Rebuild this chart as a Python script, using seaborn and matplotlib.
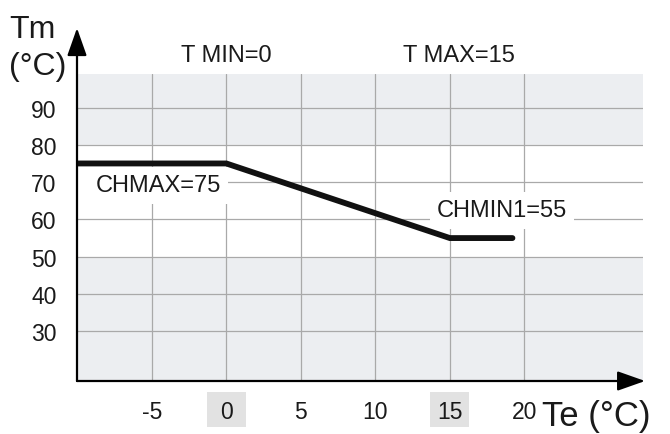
import matplotlib
matplotlib.use("Agg")
import matplotlib.pyplot as plt
from matplotlib.patches import Rectangle
import seaborn as sns
import pandas as pd

# ---- data ----
te_points = [-10, 0, 15, 19.2]
tm_points = [75, 75, 55, 55]
x_ticks = [-5, 0, 5, 10, 15, 20]
x_tick_labels = ["-5", "0", "5", "10", "15", "20"]
y_ticks = [30, 40, 50, 60, 70, 80, 90]
y_tick_labels = ["30", "40", "50", "60", "70", "80", "90"]
highlight_ticks = [0, 15]
t_min, t_max = 0, 15
ch_max, ch_min1 = 75, 55

sns.set_style("white")
plt.rcParams["font.family"] = ["Liberation Sans", "DejaVu Sans"]

W, H = 670, 435
fig = plt.figure(figsize=(W / 100, H / 100), dpi=100)
ax = fig.add_axes([77 / W, (H - 382) / H, 566 / W, (382 - 74.5) / H])

XMIN, XMAX = -10.02, 27.96
YMIN, YMAX = 16.68, 99.12
ax.set_xlim(XMIN, XMAX)
ax.set_ylim(YMIN, YMAX)

ax.set_facecolor("#eceef1")
ax.axhspan(50, 80, color="white", zorder=0)

df = pd.DataFrame({"Te": te_points, "Tm": tm_points})
sns.lineplot(data=df, x="Te", y="Tm", ax=ax, color="#111111", lw=4.2,
             sort=False, zorder=5, solid_joinstyle="miter")

grid_c = "#a9a9a9"
ax.set_xticks(x_ticks)
ax.set_xticklabels(x_tick_labels)
ax.set_yticks(y_ticks)
ax.set_yticklabels(y_tick_labels)
ax.grid(True, color=grid_c, lw=0.9, zorder=1)
ax.set_axisbelow(True)
ax.tick_params(axis="x", length=10.8, width=0.9, color=grid_c, pad=3,
               labelsize=16.5, labelcolor="#1a1a1a")
ax.tick_params(axis="y", length=8.6, width=0.9, color=grid_c, pad=6,
               labelsize=16.5, labelcolor="#1a1a1a")
ax.set_xlabel("")
ax.set_ylabel("")
for s in ax.spines.values():
    s.set_visible(False)

# gray boxes behind highlighted tick labels
for t in highlight_ticks:
    ax.add_patch(Rectangle((t - 1.3, 4.35), 2.6, 9.35, facecolor="#e2e2e2",
                           edgecolor="none", clip_on=False, zorder=0))

# axis arrows
arrow_kw = dict(arrowstyle="-|>,head_length=1.7,head_width=0.6", color="black",
                lw=1.6, shrinkA=0, shrinkB=0)
ax.annotate("", xy=(XMIN, 111.3), xytext=(XMIN, YMIN), arrowprops=arrow_kw,
            annotation_clip=False, zorder=6)
ax.annotate("", xy=(28.1, YMIN), xytext=(XMIN, YMIN), arrowprops=arrow_kw,
            annotation_clip=False, zorder=6)

txt_c = "#1a1a1a"
ax.text(t_min, 104.1, f"T MIN={t_min}", ha="center", va="center", fontsize=17,
        color=txt_c, clip_on=False)
ax.text(15.6, 104.1, f"T MAX={t_max}", ha="center", va="center", fontsize=17,
        color=txt_c, clip_on=False)
# white backing behind CHMAX label (reaches the y axis)
ax.add_patch(Rectangle((XMIN, 66.0), 9.7, 8.0, facecolor="white",
                       edgecolor="none", zorder=3))
ax.text(-8.75, 69.1, f"CHMAX={ch_max}", ha="left", va="center", fontsize=17,
        color=txt_c, zorder=4,
        bbox=dict(boxstyle="square,pad=0.3", fc="white", ec="none"))
ax.text(14.13, 62.4, f"CHMIN1={ch_min1}", ha="left", va="center", fontsize=17,
        color=txt_c, zorder=4,
        bbox=dict(boxstyle="square,pad=0.3", fc="white", ec="none"))

fig.text(9 / W, (H - 38) / H, "Tm", fontsize=23, color=txt_c, va="baseline")
fig.text(9 / W, (H - 75) / H, "(°C)", fontsize=23, color=txt_c, va="baseline")
fig.text(542 / W, (H - 426) / H, "Te (°C)", fontsize=25, color=txt_c,
         va="baseline")

fig.savefig("out.png", dpi=100)
